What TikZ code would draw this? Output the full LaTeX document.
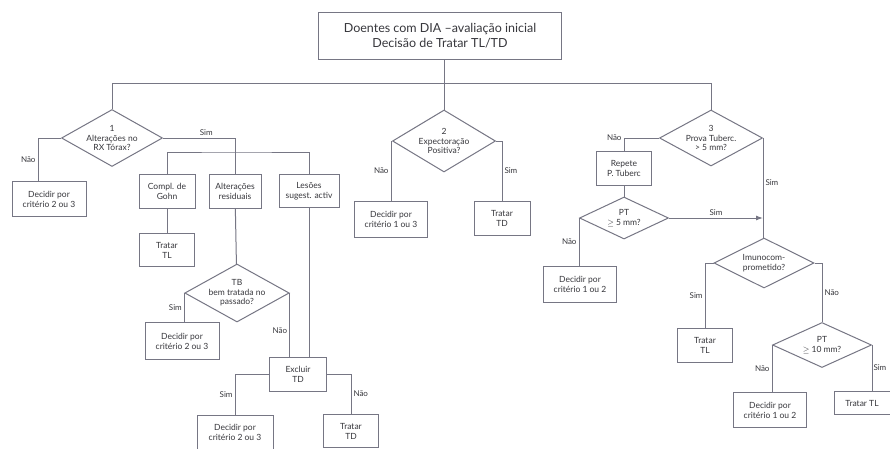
\documentclass[tikz,border=0pt]{standalone}
\usepackage{fontspec}
\setmainfont{Lato}
\usetikzlibrary{shapes.geometric,arrows.meta}
\definecolor{linecol}{RGB}{118,118,132}
\definecolor{txtcol}{RGB}{55,55,60}

\begin{document}
\begin{tikzpicture}[x=1pt, y=-1pt, color=linecol, line width=1pt,
    box/.style={draw, fill=white, text=txtcol, align=center, inner sep=2pt,
        font=\fontsize{8.5}{10}\selectfont},
    dec/.style={diamond, draw, fill=white, text=txtcol, align=center, inner sep=0pt,
        aspect=1.8, font=\fontsize{8.5}{9.5}\selectfont},
    lbl/.style={text=txtcol, inner sep=2pt, font=\fontsize{8}{9}\selectfont},
    sz/.style 2 args={minimum width=#1pt, minimum height=#2pt}]
    \path[use as bounding box, fill=white] (0,0) rectangle (890,448);

    % top
    \node[box, sz={243}{47}, font=\fontsize{12.5}{15}\selectfont] (top) at (440,36)
        {Doentes com DIA --avaliação inicial\\Decisão de Tratar TL/TD};
    \coordinate (hl) at (112,83);

    % criterion 1
    \node[dec, sz={101}{57}] (d1) at (112,138) {1\\Alterações no\\RX Tórax?};
    \node[box, sz={74}{35}] (n1) at (49,199) {Decidir por\\critério 2 ou 3};
    \node[box, sz={56}{34}] (gohn) at (167,191) {Compl. de\\Gohn};
    \node[box, sz={52}{34}] (ar) at (235,191) {Alterações\\residuais};
    \node[box, sz={60}{33}] (les) at (309,191) {Lesões\\sugest. activ};
    \coordinate (bar) at (235,152);
    \node[box, sz={55}{33}] (tl1) at (167,250) {Tratar\\TL};
    \node[dec, sz={92}{57}] (d4) at (237,293) {TB\\bem tratada no\\passado?};
    \node[box, sz={74}{37}] (n2) at (182,341) {Decidir por\\critério 2 ou 3};
    \node[box, sz={57}{34}] (exc) at (298,374) {Excluir\\TD};
    \node[box, sz={76}{34}] (n3) at (235,432) {Decidir por\\critério 2 ou 3};
    \node[box, sz={55}{33}] (td2) at (351,431) {Tratar\\TD};

    % criterion 2
    \node[dec, sz={103}{62}] (d2) at (444,141) {2\\Expectoração\\Positiva?};
    \node[box, sz={73}{36}] (n4) at (391,219) {Decidir por\\critério 1 ou 3};
    \node[box, sz={56}{34}] (td1) at (502,218) {Tratar\\TD};

    % criterion 3
    \node[dec, sz={103}{56}] (d3) at (711,138) {3\\Prova Tuberc.\\> 5 mm?};
    \node[box, sz={55}{34}] (rep) at (624,168) {Repete\\P. Tuberc};
    \node[dec, sz={89}{42}] (d5) at (624,218) {PT\\$\geq$ 5 mm?};
    \node[box, sz={73}{36}] (n5) at (580,284) {Decidir por\\critério 1 ou 2};
    \node[dec, sz={100}{50}] (d6) at (764,263) {Imunocom-\\prometido?};
    \node[box, sz={55}{34}] (tl2) at (705,345) {Tratar\\TL};
    \node[dec, sz={99}{45}] (d7) at (822,345) {PT\\$\geq$ 10 mm?};
    \node[box, sz={73}{35}] (n6) at (770,410) {Decidir por\\critério 1 ou 2};
    \node[box, sz={56}{23}] (tl3) at (862,403) {Tratar TL};

    % connectors
    \draw (top.south -| d2.north) -- (d2.north);
    \draw (d1.north) -- (hl) -| (d3.north);
    \draw (d1.west) -| node[lbl, pos=.75, left] {Não} ([xshift=-11pt]n1.north);
    \draw (d1.east) -| node[lbl, pos=.3, above] {Sim} (ar.north);
    \draw (gohn.north) |- (bar) -| (les.north);
    \draw (gohn) -- (tl1);
    \draw (ar) -- (d4);
    \draw (d4.west) -- node[lbl, left] {Sim} (d4.west |- n2.north);
    \draw (d4.east) -- node[lbl, pos=.6, left] {Não} (d4.east |- exc.north);
    \draw (les.south) -- (les.south |- exc.north);
    \draw (exc.west) -| node[lbl, pos=.75, left] {Sim} (n3.north);
    \draw (exc.east) -| node[lbl, pos=.75, right] {Não} (td2.north);
    \draw (d2.west) -| node[lbl, pos=.75, left] {Não} (n4.north);
    \draw (d2.east) -| node[lbl, pos=.75, right] {Sim} (td1.north);
    \draw (d3.west) -| node[lbl, pos=.5, left] {Não} (rep.north);
    \draw (rep) -- (d5);
    \draw[-{Latex[length=7pt, width=5pt]}] (d5.east) -- node[lbl, above] {Sim} (d5.east -| d3.east);
    \draw (d5.west) -- node[lbl, left] {Não} (d5.west |- n5.north);
    \draw (d3.east) -- node[lbl, pos=.45, right] {Sim} (d3.east |- d6.north);
    \draw (d6.west) -| node[lbl, pos=.75, left] {Sim} (tl2.north);
    \draw (d6.east) -| node[lbl, pos=.75, right] {Não} (d7.north);
    \draw (d7.west) -- node[lbl, left] {Não} (d7.west |- n6.north);
    \draw (d7.east) -- node[lbl, right, inner sep=1pt] {Sim} (d7.east |- tl3.north);
\end{tikzpicture}
\end{document}
